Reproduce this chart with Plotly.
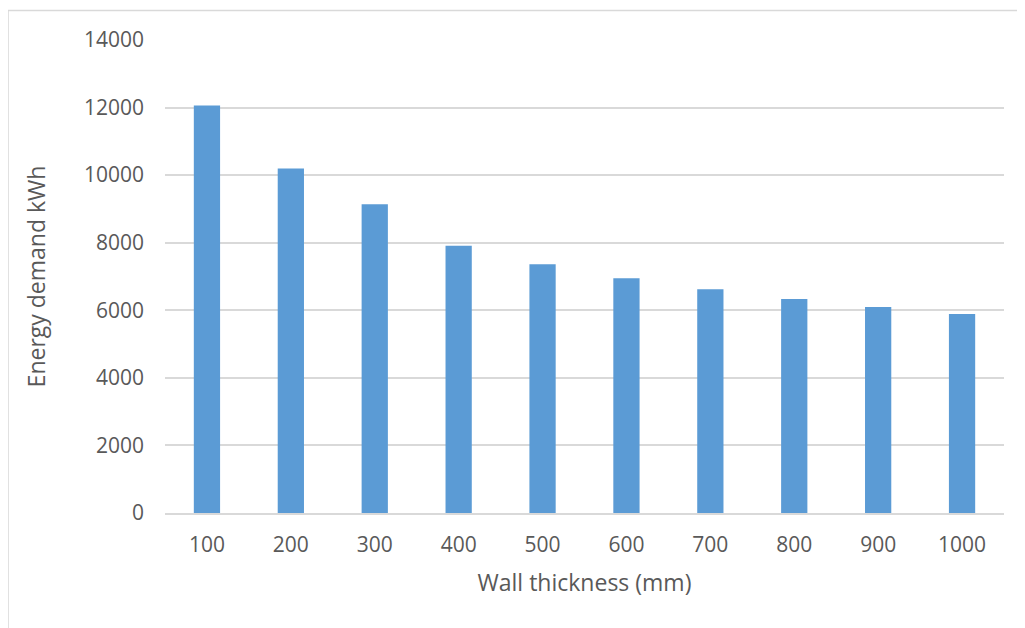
import plotly.graph_objects as go

thickness = ["100", "200", "300", "400", "500", "600", "700", "800", "900", "1000"]
energy_kwh = [12060, 10200, 9140, 7910, 7365, 6950, 6620, 6335, 6100, 5890]

text_color = "#595959"
grid_color = "#D9D9D9"
bar_color = "#5B9BD5"
font_family = "Open Sans"

fig = go.Figure()
fig.add_trace(go.Bar(
    x=thickness,
    y=energy_kwh,
    marker=dict(color=bar_color, line=dict(width=0)),
))

fig.update_layout(
    width=1017,
    height=620,
    margin=dict(l=157, r=21, t=32, b=115),
    paper_bgcolor="white",
    plot_bgcolor="white",
    bargap=0.687,
    showlegend=False,
    font=dict(family=font_family, color=text_color, size=21),
    xaxis=dict(
        type="category",
        showgrid=False,
        showline=True,
        linecolor=grid_color,
        linewidth=1.5,
        ticks="",
        ticklabelstandoff=12,
        tickfont=dict(size=21, color=text_color),
        title=dict(text="Wall thickness (mm)", font=dict(size=23, color=text_color), standoff=18),
    ),
    yaxis=dict(
        range=[0, 14000],
        dtick=2000,
        tickformat="d",
        showgrid=True,
        gridcolor=grid_color,
        gridwidth=1.5,
        zeroline=False,
        showline=False,
        ticks="",
        ticklabelstandoff=20,
        tickfont=dict(size=21, color=text_color),
        title=dict(text="Energy demand kWh", font=dict(size=23, color=text_color), standoff=31),
    ),
    shapes=[
        dict(type="line", xref="paper", yref="paper", x0=-0.1871, x1=1.05, y0=1.0624, y1=1.0624,
             line=dict(color=grid_color, width=1.5)),
        dict(type="line", xref="paper", yref="paper", x0=-0.1871, x1=-0.1871, y0=1.0624, y1=-0.3,
             line=dict(color=grid_color, width=1.5)),
    ],
)

fig.write_html("out.html")
